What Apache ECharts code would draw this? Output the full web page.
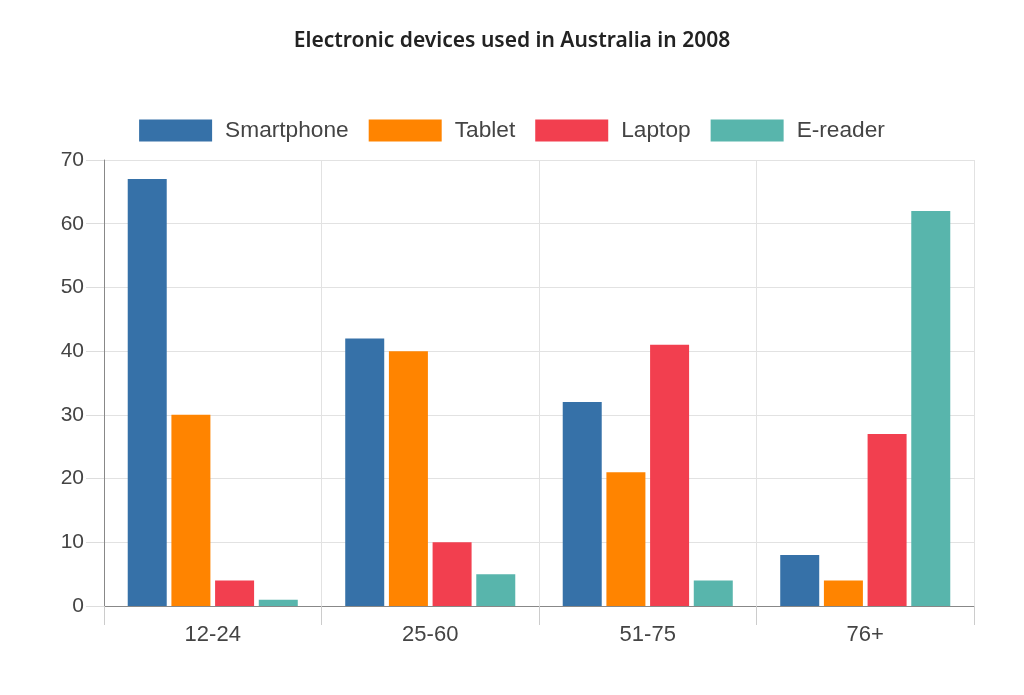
<!DOCTYPE html>
<html>
<head>
<meta charset="utf-8">
<script src="https://cdn.jsdelivr.net/npm/echarts@6/dist/echarts.min.js"></script>
<style>html,body{margin:0;padding:0;background:#fff}#c{width:1024px;height:695px}</style>
</head>
<body>
<div id="c"></div>
<script>
const categories = ['12-24', '25-60', '51-75', '76+'];
const seriesNames = ['Smartphone', 'Tablet', 'Laptop', 'E-reader'];
const smartphone = [67, 42, 32, 8];
const tablet = [30, 40, 21, 4];
const laptop = [4, 10, 41, 27];
const ereader = [1, 5, 4, 62];
const colors = ['#3671a8', '#ff8400', '#f23f4f', '#58b5ac'];
const values = [smartphone, tablet, laptop, ereader];

const chart = echarts.init(document.getElementById('c'));
chart.setOption({
  backgroundColor: '#ffffff',
  animation: false,
  title: {
    text: 'Electronic devices used in Australia in 2008',
    left: 'center', top: 26,
    textStyle: {fontFamily: 'Noto Sans', fontWeight: 600, fontSize: 21, color: '#222'}
  },
  legend: {
    top: 114, left: 'center',
    itemWidth: 73, itemHeight: 22, itemGap: 20,
    icon: 'rect',
    textStyle: {fontFamily: 'Liberation Sans', fontSize: 22.7, color: '#444', padding: [0, 0, 0, 8]},
    data: seriesNames
  },
  grid: {left: 104, right: 50, top: 160, bottom: 89, containLabel: false},
  xAxis: {
    type: 'category', data: categories,
    axisLine: {lineStyle: {color: '#888', width: 1}},
    axisTick: {show: true, length: 19, lineStyle: {color: '#ccc'}},
    axisLabel: {fontFamily: 'Liberation Sans', fontSize: 22, color: '#444', margin: 18},
    splitLine: {show: true, lineStyle: {color: '#e2e2e2'}}
  },
  yAxis: {
    type: 'value', min: 0, max: 70, interval: 10,
    axisLine: {show: true, lineStyle: {color: '#888', width: 1}},
    axisTick: {show: true, length: 18, lineStyle: {color: '#ddd'}},
    axisLabel: {fontFamily: 'Liberation Sans', fontSize: 21, color: '#444', margin: 20},
    splitLine: {show: true, lineStyle: {color: '#e2e2e2'}}
  },
  series: seriesNames.map((n, i) => ({
    name: n, type: 'bar', data: values[i],
    barWidth: 39, barGap: '12%',
    itemStyle: {color: colors[i]}
  }))
});
</script>
</body>
</html>
